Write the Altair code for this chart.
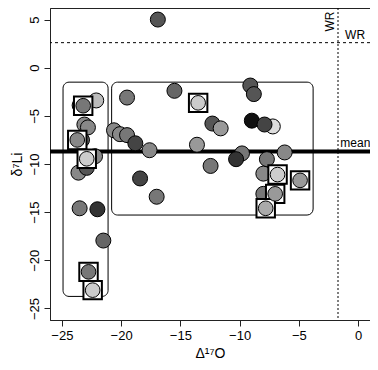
import altair as alt
import pandas as pd

# plain circles
cx = [-16.9, -23.5, -22.1, -23.1, -22.8, -23.3, -22.2, -23.6, -22.9, -23.5, -22.0, -21.5,
      -19.5, -15.5, -20.6, -20.1, -19.5, -18.8, -17.6, -18.4, -17.0, -13.6, -12.3, -11.6,
      -12.45, -9.1, -8.8, -8.97, -7.2, -7.9, -9.8, -10.3, -6.2, -7.7, -8.0, -8.0]
cy = [5.0, -3.9, -3.4, -5.9, -6.2, -7.5, -9.2, -10.9, -10.4, -14.6, -14.7, -17.95,
      -3.1, -2.4, -6.5, -6.9, -7.0, -7.85, -8.57, -11.5, -13.4, -8.0, -5.8, -6.3,
      -10.2, -1.85, -2.74, -5.5, -6.1, -5.9, -8.9, -9.5, -8.8, -9.5, -11.0, -13.1]
cg = ["#555555", "#555555", "#bbbbbb", "#888888", "#888888", "#666666", "#888888", "#888888",
      "#555555", "#777777", "#333333", "#666666",
      "#777777", "#666666", "#888888", "#888888", "#777777", "#444444", "#888888", "#444444",
      "#777777", "#999999", "#555555", "#999999",
      "#777777", "#555555", "#555555", "#111111", "#dddddd", "#444444", "#777777", "#333333",
      "#888888", "#777777", "#888888", "#777777"]

# boxed points
sx = [-23.2, -23.7, -22.9, -22.75, -22.4, -13.5, -6.8, -4.9, -7.0, -7.8]
sy = [-3.95, -7.5, -9.46, -21.2, -23.1, -3.65, -11.1, -11.7, -13.1, -14.6]
sg = ["#777777", "#888888", "#cccccc", "#777777", "#cccccc", "#cccccc", "#cccccc",
      "#999999", "#999999", "#aaaaaa"]

# rounded group boxes
bx1 = [-24.9, -20.8]
bx2 = [-21.1, -3.8]
by1 = [-1.5, -1.5]
by2 = [-23.75, -15.3]

mean_val = -8.7
wr_y = 2.6
wr_x = -1.7

xt = [-25, -20, -15, -10, -5, 0]
yt = [-25, -20, -15, -10, -5, 0, 5]

xs = alt.Scale(domain=[-26, 1], nice=False, zero=False)
ys = alt.Scale(domain=[-26.2, 6.2], nice=False, zero=False)

circ = pd.DataFrame({"x": cx, "y": cy, "g": cg})
sq = pd.DataFrame({"x": sx, "y": sy, "g": sg})
boxes = pd.DataFrame({"x": bx1, "x2": bx2, "y": by1, "y2": by2})

X = alt.X("x:Q", scale=xs, axis=alt.Axis(values=xt, title="Δ¹⁷O", grid=False))
Y = alt.Y("y:Q", scale=ys, axis=alt.Axis(values=yt, title="δ⁷Li", grid=False,
                                          labelAngle=-90, labelAlign="center",
                                          labelBaseline="bottom"))

box_layer = alt.Chart(boxes).mark_rect(fill=None, stroke="black", strokeWidth=1,
                                       cornerRadius=6).encode(
    x=X, x2="x2:Q", y=Y, y2="y2:Q")

mean_rule = alt.Chart(pd.DataFrame({"y": [mean_val]})).mark_rule(
    color="black", strokeWidth=4).encode(y=Y)
wr_h = alt.Chart(pd.DataFrame({"y": [wr_y]})).mark_rule(
    color="black", strokeWidth=1, strokeDash=[3, 3]).encode(y=Y)
wr_v = alt.Chart(pd.DataFrame({"x": [wr_x]})).mark_rule(
    color="black", strokeWidth=1, strokeDash=[2, 2]).encode(x=X)

pts = alt.Chart(circ).mark_point(shape="circle", filled=True, size=225, stroke="black",
                                 strokeWidth=1, opacity=1).encode(
    x=X, y=Y, fill=alt.Fill("g:N", scale=None))

sq_box = alt.Chart(sq).mark_point(shape="square", filled=True, size=340, fill="white",
                                  stroke="black", strokeWidth=2, opacity=1).encode(x=X, y=Y)
sq_pts = alt.Chart(sq).mark_point(shape="circle", filled=True, size=215, stroke="black",
                                  strokeWidth=1, opacity=1).encode(
    x=X, y=Y, fill=alt.Fill("g:N", scale=None))

txt = pd.DataFrame({"x": [-1.5, -1.1], "y": [mean_val, wr_y], "t": ["mean", "WR"]})
labels = alt.Chart(txt).mark_text(align="left", baseline="bottom", dy=-1, fontSize=12,
                                  font="Liberation Sans", color="black", clip=True).encode(
    x=X, y=Y, text="t:N")
vlab = alt.Chart(pd.DataFrame({"x": [wr_x], "y": [4.8], "t": ["WR"]})).mark_text(
    align="center", baseline="bottom", angle=270, dy=-1, fontSize=12,
    font="Liberation Sans", color="black").encode(x=X, y=Y, text="t:N")

chart = alt.layer(box_layer, wr_h, wr_v, mean_rule, pts, sq_box, sq_pts, labels, vlab).properties(
    width=320, height=312,
    autosize=alt.AutoSizeParams(type="none"),
    padding={"left": 42, "top": 0, "right": 0, "bottom": 42},
).configure_view(stroke="#222222", strokeWidth=1).configure_axis(
    labelFont="Liberation Sans", titleFont="Liberation Sans", labelFontSize=13,
    titleFontSize=14, titleFontWeight="normal", labelColor="black", titleColor="black",
    domainColor="#222222", tickColor="#222222", tickSize=6, labelPadding=3, titlePadding=4
)

chart.save("out.html", embed_options={"renderer": "svg", "actions": False})
